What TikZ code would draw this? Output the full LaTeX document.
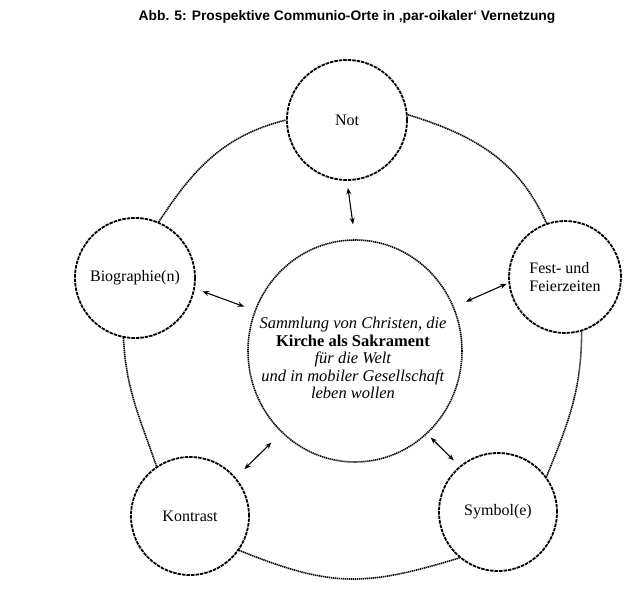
\documentclass[tikz,border=0pt]{standalone}
\usepackage{fontspec}
\setmainfont{Liberation Serif}
\newfontfamily\titlefont{Liberation Sans}
\usetikzlibrary{arrows.meta,shapes.geometric}
\begin{document}
\begin{tikzpicture}[x=1pt,y=1pt,
  sat/.style={circle, draw, line width=1.8pt, dash pattern=on 3.5pt off 1pt,
    minimum size=#1, inner sep=0pt, fill=white, font=\fontsize{16}{18}\selectfont},
  ring/.style={line width=1.6pt, dash pattern=on 1.3pt off 0.7pt},
  link/.style={{Stealth[length=6.5pt,width=5pt]}-{Stealth[length=6.5pt,width=5pt]}, line width=1.1pt},
  ctrtext/.style={align=center, font=\fontsize{16.5}{17.5}\selectfont}
]
\useasboundingbox (0,0) rectangle (631,615);
\node[font=\titlefont\bfseries\fontsize{13.8}{15}\selectfont] (title) at (347,598)
  {Abb. 5: Prospektive Communio-Orte in ‚par-oikaler‘ Vernetzung};

\node[sat=120pt] (not) at (347,495) {Not};
\node[sat=120pt] (bio) at (135,337) {Biographie(n)};
\node[sat=112pt, align=left] (fest) at (565,338) {Fest- und\\Feierzeiten};
\node[sat=118pt] (kon) at (190,99) {Kontrast};
\node[sat=118pt] (sym) at (498,103) {Symbol(e)};

\node[ellipse, draw, line width=1.6pt, dash pattern=on 1.3pt off 0.7pt,
  minimum width=214pt, minimum height=222pt, inner sep=0pt] (ctr) at (355,264) {};
\node[ctrtext] (ctrlabel) at (353,257)
  {\textit{Sammlung von Christen, die}\\ \textbf{Kirche als Sakrament}\\ \textit{für die Welt}\\
   \textit{und in mobiler Gesellschaft}\\ \textit{leben wollen}};

\draw[ring] (not.5) to[out=-17, in=114] (fest.109);
\draw[ring] (bio.67) to[out=57, in=194] (not.180);
\draw[ring] (bio.259) to[out=-87, in=109] (kon.124);
\draw[ring] (fest.-73) to[out=-90, in=68] (sym.36);
\draw[ring] (kon.-35) to[out=-22, in=197, looseness=1.15] (sym.230);

\draw[link, shorten <=7pt, shorten >=15pt] (not.-90) -- (ctr.90);
\draw[link, shorten <=8pt, shorten >=11pt] (bio.-10) -- (ctr.158);
\draw[link, shorten <=2pt, shorten >=13pt] (fest.186) -- (ctr.24);
\draw[link, shorten <=12pt, shorten >=14pt] (kon.40) -- (ctr.-132);
\draw[link, shorten <=8pt, shorten >=5pt] (sym.130) -- (ctr.-49);
\end{tikzpicture}
\end{document}
